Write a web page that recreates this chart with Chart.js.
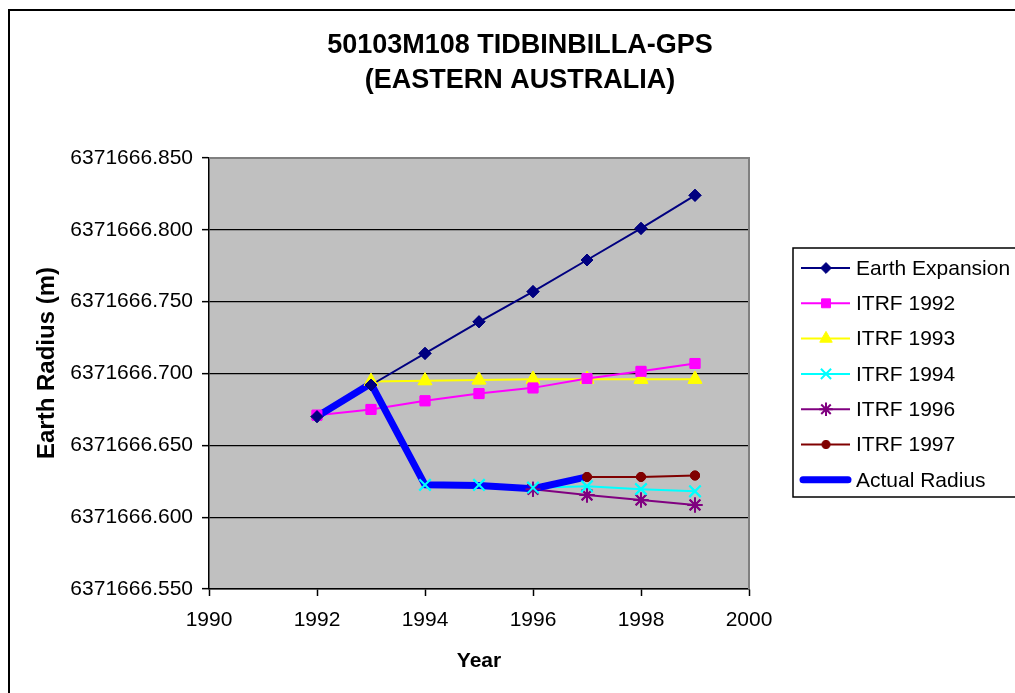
<!DOCTYPE html>
<html>
<head>
<meta charset="utf-8">
<script src="https://cdn.jsdelivr.net/npm/chart.js@4/dist/chart.umd.min.js"></script>
<style>
  html, body { margin: 0; padding: 0; background: #ffffff; }
  #wrap { width: 1015px; height: 693px; position: relative; }
</style>
</head>
<body>
<div id="wrap"><canvas id="chart" width="1015" height="693"></canvas></div>
<script>
// Station 50103M108 Tidbinbilla-GPS: Earth radius by year, per ITRF solution
const years = [1992, 1993, 1994, 1995, 1996, 1997, 1998, 1999];
const earthExpansion = [6371666.670, 6371666.692, 6371666.714, 6371666.736, 6371666.757, 6371666.779, 6371666.801, 6371666.824];
const itrf1992 = [6371666.671, 6371666.675, 6371666.681, 6371666.686, 6371666.690, 6371666.6965, 6371666.7015, 6371666.707];
const itrf1993 = [null, 6371666.6945, 6371666.695, 6371666.6955, 6371666.696, 6371666.696, 6371666.696, 6371666.696];
const itrf1994 = [null, null, 6371666.6225, 6371666.6225, 6371666.6205, 6371666.6215, 6371666.6195, 6371666.618];
const itrf1996 = [null, null, null, null, 6371666.6195, 6371666.6155, 6371666.612, 6371666.6085];
const itrf1997 = [null, null, null, null, null, 6371666.628, 6371666.628, 6371666.629];
const actualRadius = [6371666.670, 6371666.693, 6371666.6225, 6371666.622, 6371666.6198, 6371666.628, null, null];

const seriesNames = ['Earth Expansion', 'ITRF 1992', 'ITRF 1993', 'ITRF 1994', 'ITRF 1996', 'ITRF 1997', 'Actual Radius'];
const yTickValues = [6371666.550, 6371666.600, 6371666.650, 6371666.700, 6371666.750, 6371666.800, 6371666.850];
const xTickValues = [1990, 1992, 1994, 1996, 1998, 2000];
const titleLines = ['50103M108 TIDBINBILLA-GPS', '(EASTERN AUSTRALIA)'];
const xAxisTitle = 'Year';
const yAxisTitle = 'Earth Radius (m)';

const FONT = '"Liberation Sans", Arial, sans-serif';

function toPoints(values) {
  const pts = [];
  values.forEach((v, i) => { if (v !== null) pts.push({ x: years[i], y: v }); });
  return pts;
}

const styles = [
  { color: '#000080', fill: '#000080', pointStyle: 'rectRot', radius: 6, width: 2 },
  { color: '#FF00FF', fill: '#FF00FF', pointStyle: 'rect', radius: 7, width: 2 },
  { color: '#FFFF00', fill: '#FFFF00', pointStyle: 'triangle', radius: 8, width: 2 },
  { color: '#00FFFF', fill: '#00FFFF', pointStyle: 'crossRot', radius: 8, width: 2 },
  { color: '#800080', fill: '#800080', pointStyle: 'star', radius: 7.5, width: 2 },
  { color: '#800000', fill: '#800000', pointStyle: 'circle', radius: 4.5, width: 2 },
  { color: '#0000FF', fill: '#0000FF', pointStyle: false, radius: 0, width: 7 }
];
const seriesValues = [earthExpansion, itrf1992, itrf1993, itrf1994, itrf1996, itrf1997, actualRadius];

const datasets = seriesValues.map((vals, i) => {
  const s = styles[i];
  return {
    label: seriesNames[i],
    data: toPoints(vals),
    borderColor: s.color,
    backgroundColor: s.fill,
    borderWidth: s.width,
    pointStyle: s.pointStyle,
    pointRadius: s.radius,
    pointBorderColor: s.color,
    pointBackgroundColor: s.fill,
    pointBorderWidth: (s.pointStyle === 'crossRot' || s.pointStyle === 'star') ? 2 : 1,
    pointHoverRadius: s.radius,
    tension: 0,
    order: i === 6 ? -1 : i,
    borderJoinStyle: 'round',
    borderCapStyle: 'round'
  };
});

// Plot background, frame, title, axis titles, legend and outer border
const decorations = {
  id: 'decorations',
  beforeDraw(chart) {
    const { ctx, chartArea: a } = chart;
    ctx.save();
    ctx.fillStyle = '#C0C0C0';
    ctx.fillRect(a.left, a.top, a.right - a.left, a.bottom - a.top);
    ctx.restore();
  },
  afterDatasetsDraw(chart) {
    const ctx = chart.ctx;
    // markers sit above every line, as the series lines are drawn first
    chart.getSortedVisibleDatasetMetas().slice().reverse().forEach(meta => {
      if (meta.index === 6) return;
      meta.data.forEach(el => el.draw(ctx, chart.chartArea));
    });
  },
  afterDraw(chart) {
    const { ctx, chartArea: a } = chart;
    ctx.save();
    // plot frame: gray top and right edges
    ctx.strokeStyle = '#808080';
    ctx.lineWidth = 2;
    ctx.beginPath();
    ctx.moveTo(a.left, a.top);
    ctx.lineTo(a.right, a.top);
    ctx.lineTo(a.right, a.bottom);
    ctx.stroke();

    // title
    ctx.fillStyle = '#000';
    ctx.textAlign = 'center';
    ctx.textBaseline = 'middle';
    ctx.font = 'bold 27px ' + FONT;
    ctx.fillText(titleLines[0], 520, 46);
    ctx.fillText(titleLines[1], 520, 81);

    // axis titles
    ctx.font = 'bold 21px ' + FONT;
    ctx.fillText(xAxisTitle, (a.left + a.right) / 2, 661);
    ctx.save();
    ctx.translate(47, 363);
    ctx.rotate(-Math.PI / 2);
    ctx.font = 'bold 24px ' + FONT;
    ctx.fillText(yAxisTitle, 0, 0);
    ctx.restore();

    // legend
    const lx = 793, ly = 248, lw = 240, lh = 249;
    ctx.strokeStyle = '#000';
    ctx.lineWidth = 1.5;
    ctx.strokeRect(lx, ly, lw, lh);
    const rowTop = 268, rowStep = 35.3;
    ctx.textAlign = 'left';
    ctx.font = '21px ' + FONT;
    seriesNames.forEach((name, i) => {
      const s = styles[i];
      const y = rowTop + i * rowStep;
      ctx.strokeStyle = s.color;
      ctx.lineWidth = s.width;
      ctx.lineCap = i === 6 ? 'round' : 'butt';
      ctx.beginPath();
      ctx.moveTo(i === 6 ? 803 : 801, y);
      ctx.lineTo(i === 6 ? 848 : 850, y);
      ctx.stroke();
      if (s.pointStyle && Chart.helpers && Chart.helpers.drawPoint) {
        ctx.fillStyle = s.fill;
        ctx.strokeStyle = s.color;
        ctx.lineWidth = datasets[i].pointBorderWidth;
        Chart.helpers.drawPoint(ctx, {
          pointStyle: s.pointStyle,
          radius: s.radius * 0.9,
          rotation: 0,
          borderWidth: datasets[i].pointBorderWidth
        }, 826, y);
      }
      ctx.fillStyle = '#000';
      ctx.fillText(name, 856, y + 1);
    });

    // outer chart border
    ctx.strokeStyle = '#000';
    ctx.lineWidth = 2;
    ctx.strokeRect(9, 10, 1030, 700);
    ctx.restore();
  }
};

const chart = new Chart(document.getElementById('chart'), {
  type: 'line',
  data: { datasets },
  options: {
    responsive: false,
    animation: false,
    devicePixelRatio: 1,
    layout: { padding: { left: 0, top: 158, right: 266, bottom: 0 } },
    plugins: {
      legend: { display: false },
      title: { display: false },
      tooltip: { enabled: false }
    },
    scales: {
      x: {
        type: 'linear',
        min: 1990,
        max: 2000,
        afterBuildTicks(scale) { scale.ticks = xTickValues.map(v => ({ value: v })); },
        afterFit(scale) { scale.height = 104; },
        ticks: {
          color: '#000',
          font: { family: FONT, size: 21 },
          padding: 12,
          maxRotation: 0,
          autoSkip: false,
          callback: v => String(v)
        },
        grid: {
          drawOnChartArea: false,
          drawTicks: true,
          tickLength: 7,
          tickColor: '#000',
          tickWidth: 1.5
        },
        border: { display: true, color: '#000', width: 1.5 }
      },
      y: {
        type: 'linear',
        min: yTickValues[0],
        max: yTickValues[yTickValues.length - 1],
        afterBuildTicks(scale) { scale.ticks = yTickValues.map(v => ({ value: v })); },
        afterFit(scale) { scale.width = 209; },
        ticks: {
          color: '#000',
          font: { family: FONT, size: 21 },
          padding: 9,
          autoSkip: false,
          callback: v => Number(v).toFixed(3)
        },
        grid: {
          drawOnChartArea: true,
          drawTicks: true,
          tickLength: 7,
          tickColor: '#000',
          tickWidth: 1.5,
          lineWidth: 1.3,
          color: ctx => {
            const i = ctx.index;
            if (i === yTickValues.length - 1) return 'rgba(0,0,0,0)';
            return '#000';
          }
        },
        border: { display: true, color: '#000', width: 1.5 }
      }
    }
  },
  plugins: [decorations]
});
</script>
</body>
</html>
